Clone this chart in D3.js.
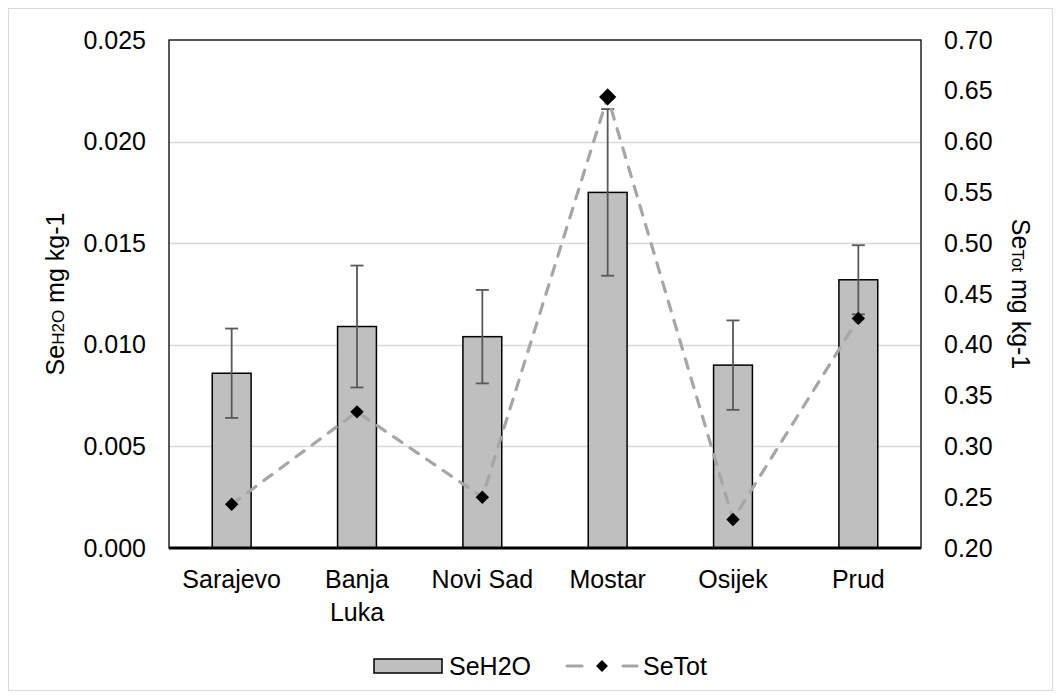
<!doctype html>
<html lang="en">
  <head>
    <meta charset="UTF-8" />
    <title>SeH2O and SeTot</title>
    <style>
      body { margin: 0; background: #fff; }
      svg text { font-family: "Liberation Sans", Arial, sans-serif; fill: #000; }
    </style>
  </head>
  <body>
    <div id="chart"></div>
    <script src="https://cdn.jsdelivr.net/npm/d3@7"></script>
    <script>
      const cities = ["Sarajevo", "Banja Luka", "Novi Sad", "Mostar", "Osijek", "Prud"];
      const seH2O = [0.0086, 0.0109, 0.0104, 0.0175, 0.0090, 0.0132];
      const seH2OErr = [0.0022, 0.0030, 0.0023, 0.0041, 0.0022, 0.0017];
      const seTot = [0.243, 0.334, 0.250, 0.644, 0.228, 0.426];
      const leftTicks = [0, 0.005, 0.010, 0.015, 0.020, 0.025];
      const rightTicks = [0.20, 0.25, 0.30, 0.35, 0.40, 0.45, 0.50, 0.55, 0.60, 0.65, 0.70];

      const width = 1061, height = 699;
      const plot = { left: 169, right: 921, top: 40, bottom: 548 };

      const svg = d3.select("#chart").append("svg")
          .attr("width", width)
          .attr("height", height);

      // outer chart frame
      svg.append("rect")
          .attr("x", 8.5).attr("y", 8.5)
          .attr("width", width - 17).attr("height", height - 17)
          .attr("fill", "#fff").attr("stroke", "#d9d9d9");

      const x = d3.scaleBand().domain(cities)
          .range([plot.left, plot.right])
          .paddingInner(0.69).paddingOuter(0.345);
      const y = d3.scaleLinear().domain([0, 0.025]).range([plot.bottom, plot.top]);
      const y2 = d3.scaleLinear().domain([0.20, 0.70]).range([plot.bottom, plot.top]);

      // gridlines
      svg.append("g").selectAll("line")
          .data(leftTicks.slice(1, -1))
          .join("line")
          .attr("x1", plot.left).attr("x2", plot.right)
          .attr("y1", d => Math.round(y(d)) + 0.5).attr("y2", d => Math.round(y(d)) + 0.5)
          .attr("stroke", "#d9d9d9").attr("stroke-width", 1.5);

      // plot box
      svg.append("rect")
          .attr("x", plot.left).attr("y", plot.top)
          .attr("width", plot.right - plot.left).attr("height", plot.bottom - plot.top)
          .attr("fill", "none").attr("stroke", "#000").attr("stroke-width", 1.3);

      // bars
      svg.append("g").selectAll("rect")
          .data(cities)
          .join("rect")
          .attr("x", d => x(d))
          .attr("y", (d, i) => y(seH2O[i]))
          .attr("width", x.bandwidth())
          .attr("height", (d, i) => plot.bottom - y(seH2O[i]))
          .attr("fill", "#bfbfbf")
          .attr("stroke", "#000").attr("stroke-width", 1.5);

      // error bars
      const eb = svg.append("g").attr("stroke", "#595959").attr("stroke-width", 1.8);
      cities.forEach((c, i) => {
          const cx = x(c) + x.bandwidth() / 2;
          const hi = y(seH2O[i] + seH2OErr[i]), lo = y(seH2O[i] - seH2OErr[i]);
          eb.append("line").attr("x1", cx).attr("x2", cx).attr("y1", hi).attr("y2", lo);
          eb.append("line").attr("x1", cx - 6.5).attr("x2", cx + 6.5).attr("y1", hi).attr("y2", hi);
          eb.append("line").attr("x1", cx - 6.5).attr("x2", cx + 6.5).attr("y1", lo).attr("y2", lo);
      });

      // x axis line
      svg.append("line")
          .attr("x1", plot.left).attr("x2", plot.right)
          .attr("y1", plot.bottom).attr("y2", plot.bottom)
          .attr("stroke", "#000").attr("stroke-width", 3);

      // SeTot line
      const line = d3.line()
          .x((d, i) => x(cities[i]) + x.bandwidth() / 2)
          .y(d => y2(d));
      svg.append("path")
          .datum(seTot)
          .attr("d", line)
          .attr("fill", "none")
          .attr("stroke", "#a6a6a6").attr("stroke-width", 3.2)
          .attr("stroke-linecap", "round")
          .attr("stroke-dasharray", "10,10");

      const diamond = d3.symbol().type(d3.symbolDiamond2);
      svg.append("g").selectAll("path")
          .data(seTot)
          .join("path")
          .attr("transform", (d, i) => `translate(${x(cities[i]) + x.bandwidth() / 2},${y2(d)})`)
          .attr("d", d => diamond.size(d === d3.max(seTot) ? 190 : 115)())
          .attr("fill", "#000");

      // axes
      const yAxis = d3.axisLeft(y).tickValues(leftTicks).tickFormat(d3.format(".3f")).tickSize(0).tickPadding(23);
      const gy = svg.append("g").attr("transform", `translate(${plot.left},0)`).call(yAxis);
      const yAxis2 = d3.axisRight(y2).tickValues(rightTicks).tickFormat(d3.format(".2f")).tickSize(0).tickPadding(23);
      const gy2 = svg.append("g").attr("transform", `translate(${plot.right},0)`).call(yAxis2);
      [gy, gy2].forEach(g => {
          g.select(".domain").remove();
          g.selectAll("text").attr("font-size", 25).attr("font-family", "Liberation Sans, Arial, sans-serif").attr("fill", "#000");
      });

      const xAxis = d3.axisBottom(x).tickSize(0).tickPadding(0);
      const gx = svg.append("g").attr("transform", `translate(0,${plot.bottom})`).call(xAxis);
      gx.select(".domain").remove();
      gx.selectAll("text").remove();
      gx.selectAll(".tick").each(function (d) {
          const t = d3.select(this).append("text")
              .attr("text-anchor", "middle")
              .attr("font-size", 25)
              .attr("y", 40);
          const words = d === "Banja Luka" ? ["Banja", "Luka"] : [d];
          words.forEach((w, k) => t.append("tspan").attr("x", 0).attr("dy", k ? 33 : 0).text(w));
      });

      // axis titles
      const lt = svg.append("text")
          .attr("transform", `translate(64,${(plot.top + plot.bottom) / 2}) rotate(-90)`)
          .attr("text-anchor", "middle").attr("font-size", 25);
      lt.append("tspan").text("Se");
      lt.append("tspan").attr("font-size", 17).text("H2O");
      lt.append("tspan").text(" mg kg-1");

      const rt = svg.append("text")
          .attr("transform", `translate(1012,${(plot.top + plot.bottom) / 2}) rotate(90)`)
          .attr("text-anchor", "middle").attr("font-size", 25);
      rt.append("tspan").text("Se");
      rt.append("tspan").attr("font-size", 17).text("Tot");
      rt.append("tspan").text(" mg kg-1");

      // legend
      const lg = svg.append("g");
      lg.append("rect")
          .attr("x", 374).attr("y", 659).attr("width", 68).attr("height", 14)
          .attr("fill", "#bfbfbf").attr("stroke", "#000").attr("stroke-width", 1.5);
      lg.append("text").attr("x", 449).attr("y", 675).attr("font-size", 25).text("SeH2O");
      [[567, 582], [623, 637]].forEach(([a, b]) => {
          lg.append("line").attr("x1", a).attr("x2", b).attr("y1", 666).attr("y2", 666)
              .attr("stroke", "#a6a6a6").attr("stroke-width", 3.2).attr("stroke-linecap", "round");
      });
      lg.append("path")
          .attr("transform", "translate(602,666)")
          .attr("d", diamond.size(90)())
          .attr("fill", "#000");
      lg.append("text").attr("x", 643).attr("y", 675).attr("font-size", 25).text("SeTot");
    </script>
  </body>
</html>
